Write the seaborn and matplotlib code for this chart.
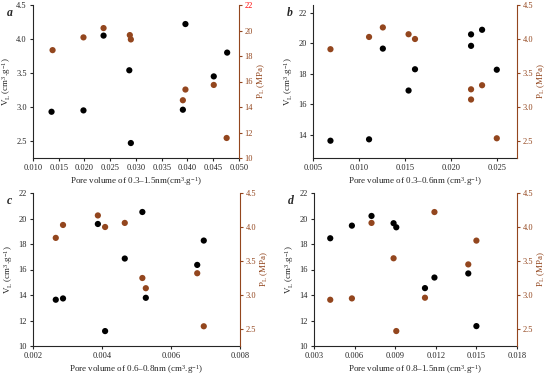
import numpy as np
import pandas as pd
import seaborn as sns
import matplotlib.pyplot as plt
from matplotlib.ticker import FormatStrFormatter

sns.set_style("ticks")
plt.rcParams['font.family'] = ['Liberation Serif', 'DejaVu Serif']
plt.rcParams['mathtext.fontset'] = 'custom'
plt.rcParams['mathtext.rm'] = 'Liberation Serif'
plt.rcParams['mathtext.it'] = 'Liberation Serif:italic'

brown = '#93461e'

# panel a : 0.3-1.5 nm
a_x_vl = [0.0136, 0.0198, 0.0237, 0.0287, 0.0290, 0.0396, 0.0391, 0.0451, 0.0477]
a_vl = [2.93, 2.95, 4.05, 3.54, 2.47, 4.22, 2.96, 3.45, 3.80]
a_x_pl = [0.0138, 0.0198, 0.0237, 0.0288, 0.0290, 0.0391, 0.0396, 0.0451, 0.0476]
a_pl = [18.46, 19.46, 20.19, 19.64, 19.30, 14.53, 15.37, 15.73, 11.57]

# panel b : 0.3-0.6 nm
b_x = [0.0069, 0.0111, 0.0126, 0.0154, 0.0161, 0.0222, 0.0222, 0.0234, 0.0250]
b_vl = [13.63, 13.72, 19.65, 16.91, 18.30, 20.58, 19.83, 20.88, 18.27]
b_pl = [3.85, 4.03, 4.17, 4.07, 4.00, 3.26, 3.11, 3.32, 2.54]

# panel c : 0.6-0.8 nm
c_x = [0.00266, 0.00287, 0.00388, 0.00409, 0.00466, 0.00517, 0.00527, 0.00676, 0.00695]
c_vl = [13.63, 13.73, 19.57, 11.17, 16.86, 20.51, 13.78, 16.36, 18.27]
c_pl = [3.84, 4.03, 4.17, 4.00, 4.06, 3.25, 3.10, 3.32, 2.54]

# panel d : 0.8-1.5 nm
d_x = [0.0042, 0.0058, 0.00725, 0.00888, 0.00908, 0.0112, 0.0119, 0.0144, 0.0150]
d_vl = [18.45, 19.44, 20.20, 19.63, 19.31, 14.54, 15.37, 15.69, 11.56]
d_pl = [2.93, 2.95, 4.06, 3.54, 2.47, 2.96, 4.22, 3.45, 3.80]

vl_label = r'V$_\mathrm{L}$ (cm$^3$.g$^{-1}$)'
pl_label = r'P$_\mathrm{L}$ (MPa)'

panels = [
    dict(letter='a', x_vl=a_x_vl, vl=a_vl, x_pl=a_x_pl, pl=a_pl,
         xlab='Pore volume of 0.3\u20131.5nm(cm$^3$.g$^{-1}$)',
         xlim=(0.010, 0.050), xt=np.arange(0.010, 0.0501, 0.005), xfmt='%.3f',
         ylim=(2.25, 4.5), yt=np.arange(2.5, 4.51, 0.5), yfmt='%.1f',
         rlim=(10, 22), rt=np.arange(10, 22.1, 2), rfmt='%d',
         pos=[33, 5, 239, 158]),
    dict(letter='b', x_vl=b_x, vl=b_vl, x_pl=b_x, pl=b_pl,
         xlab='Pore volume of 0.3\u20130.6nm (cm$^3$.g$^{-1}$)',
         xlim=(0.005, 0.0272), xt=np.arange(0.005, 0.0251, 0.005), xfmt='%.3f',
         ylim=(12.5, 22.5), yt=np.arange(14, 22.1, 2), yfmt='%d',
         rlim=(2.25, 4.5), rt=np.arange(2.5, 4.51, 0.5), rfmt='%.1f',
         pos=[313, 5, 517, 158]),
    dict(letter='c', x_vl=c_x, vl=c_vl, x_pl=c_x, pl=c_pl,
         xlab='Pore volume of 0.6\u20130.8nm (cm$^3$.g$^{-1}$)',
         xlim=(0.002, 0.008), xt=np.arange(0.002, 0.0081, 0.002), xfmt='%.3f',
         ylim=(10, 22), yt=np.arange(10, 22.1, 2), yfmt='%d',
         rlim=(2.25, 4.5), rt=np.arange(2.5, 4.51, 0.5), rfmt='%.1f',
         pos=[33, 193, 240, 346]),
    dict(letter='d', x_vl=d_x, vl=d_vl, x_pl=d_x, pl=d_pl,
         xlab='Pore volume of 0.8\u20131.5nm (cm$^3$.g$^{-1}$)',
         xlim=(0.003, 0.018), xt=np.arange(0.003, 0.0181, 0.003), xfmt='%.3f',
         ylim=(10, 22), yt=np.arange(10, 22.1, 2), yfmt='%d',
         rlim=(2.25, 4.5), rt=np.arange(2.5, 4.51, 0.5), rfmt='%.1f',
         pos=[314, 193, 517, 346]),
]

W, H = 550, 376
fig = plt.figure(figsize=(W / 100, H / 100), dpi=100)

for p in panels:
    l, t, r, b = p['pos']
    ax = fig.add_axes([l / W, (H - b) / H, (r - l) / W, (b - t) / H])
    ax2 = ax.twinx()

    df_vl = pd.DataFrame({'x': p['x_vl'], 'y': p['vl']})
    df_pl = pd.DataFrame({'x': p['x_pl'], 'y': p['pl']})
    sns.scatterplot(data=df_vl, x='x', y='y', ax=ax, color='black', s=20,
                    edgecolor='none', zorder=3)
    sns.scatterplot(data=df_pl, x='x', y='y', ax=ax2, color=brown, s=20,
                    edgecolor='none', zorder=3)

    ax.set_xlim(*p['xlim'])
    ax.set_xticks(p['xt'])
    ax.xaxis.set_major_formatter(FormatStrFormatter(p['xfmt']))
    ax.set_ylim(*p['ylim'])
    ax.set_yticks(p['yt'])
    ax.yaxis.set_major_formatter(FormatStrFormatter(p['yfmt']))
    ax2.set_ylim(*p['rlim'])
    ax2.set_yticks(p['rt'])
    ax2.yaxis.set_major_formatter(FormatStrFormatter(p['rfmt']))

    ax.set_xlabel(p['xlab'], fontsize=6.5, labelpad=2)
    ax.set_ylabel(vl_label, fontsize=6.5, labelpad=2)
    ax2.set_ylabel(pl_label, fontsize=6.5, labelpad=1.5, color=brown)

    for a in (ax, ax2):
        a.spines['top'].set_visible(False)
        a.spines['left'].set_linewidth(0.8)
        a.spines['bottom'].set_linewidth(0.8)
        a.spines['right'].set_linewidth(0.8)
        a.tick_params(labelsize=6, length=2.5, width=0.8, pad=2)
    ax.spines['right'].set_visible(False)
    ax2.spines['left'].set_visible(False)
    ax2.spines['bottom'].set_visible(False)
    ax2.spines['right'].set_color(brown)
    ax2.tick_params(axis='y', colors=brown, pad=1.5)
    if p['letter'] == 'a':
        ax2.get_yticklabels()[-1].set_color('red')

    fig.text((l - 26) / W, (H - t - 8) / H, p['letter'], fontsize=8.5,
             fontweight='bold', fontstyle='italic', va='center', ha='left')

fig.savefig('out.png', dpi=100)
